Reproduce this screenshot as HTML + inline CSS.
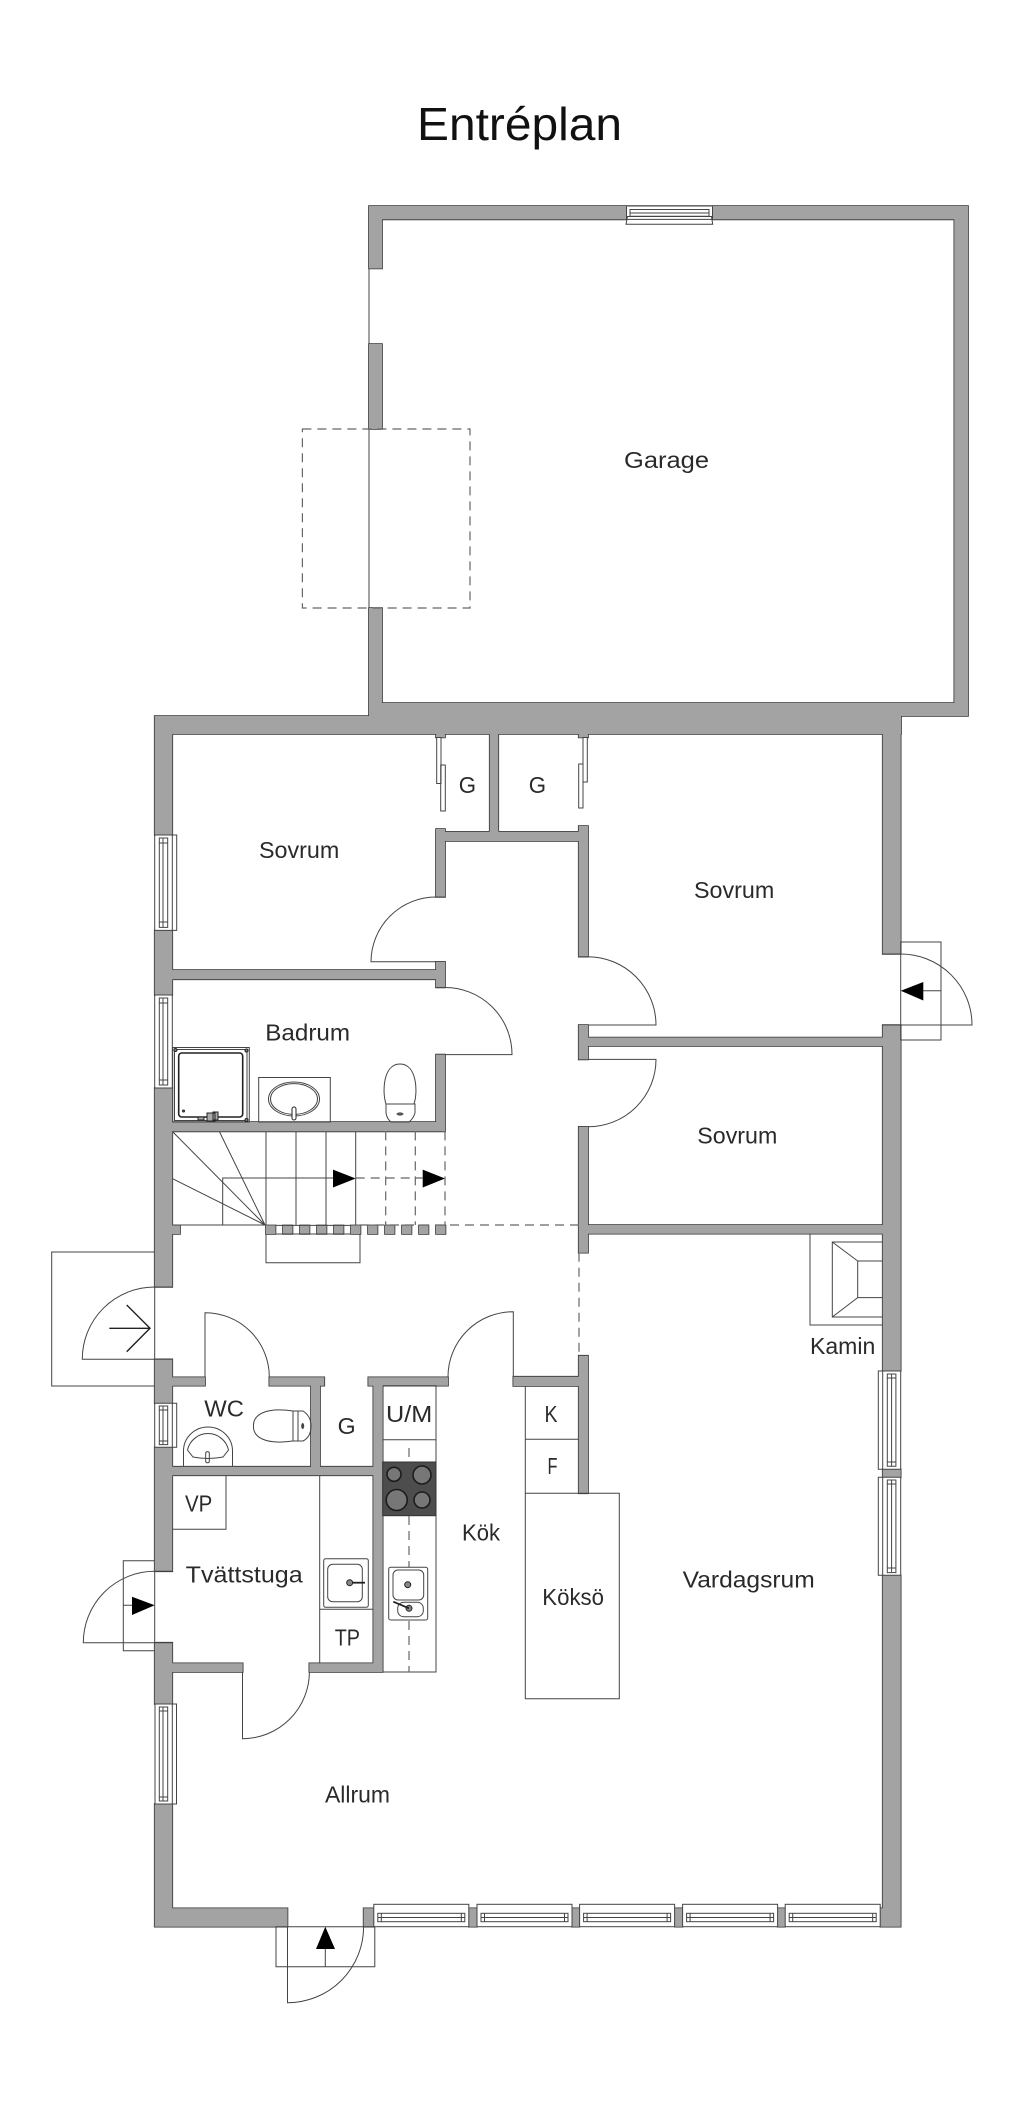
<!DOCTYPE html>
<html lang="sv"><head><meta charset="utf-8"><title>Entréplan</title><style>
html,body{margin:0;padding:0;background:#fff;width:1024px;height:2109px;overflow:hidden}
svg{display:block}
text{font-family:"Liberation Sans",sans-serif;font-size:23px;fill:#2a2a2a}
.l{fill:none;stroke:#444;stroke-width:1}
.d{fill:none;stroke:#666;stroke-width:1.2;stroke-dasharray:9 6}
.w{fill:#fff;stroke:#444;stroke-width:1}
</style></head><body>
<svg width="1024" height="2109" viewBox="0 0 1024 2109" xmlns="http://www.w3.org/2000/svg">
<defs>
<path id="walls" d="M369 206h599v13.4h-599zM954.3 206h13.7v510h-13.7zM369 206h13v62.5h-13zM369 344h13v85h-13zM369 608h13v126h-13zM369 703h532v31h-532zM900 703h68v13h-68zM154.7 716h215v18h-215zM154.7 716h17.6v119h-17.6zM154.7 930.4h17.6v64.6h-17.6zM154.7 1088h17.6v199h-17.6zM154.7 1359.3h17.6v44h-17.6zM154.7 1447.3h17.6v124h-17.6zM154.7 1642.7h17.6v61.3h-17.6zM154.7 1804h17.6v122.7h-17.6zM882.7 716h18v238h-18zM882.7 1025h18v346h-18zM882.7 1469.3h18v8h-18zM882.7 1575.3h18v351.4h-18zM154.7 1908.3h132.8v18.4h-132.8zM363.6 1908.3h10.2v18.4h-10.2zM468.8 1908.3h8.2v18.4h-8.2zM572 1908.3h7.4v18.4h-7.4zM674.8 1908.3h7.8v18.4h-7.8zM777.6 1908.3h7.4v18.4h-7.4zM880.3 1908.3h20.4v18.4h-20.4zM172 970h264v9.3h-264zM436 961.8h9v25.7h-9zM436 829h9v68h-9zM436 831.8h152v9.2h-152zM489.7 734h8.6v98h-8.6zM578.7 826h9.3v130.7h-9.3zM436 734h9v3.5h-9zM578.7 734h9.3v3.5h-9.3zM172 1122h273v9.4h-273zM436 1054.6h9v76.8h-9zM578.7 1025h9.3v34.4h-9.3zM588 1037.5h294.7v8.5h-294.7zM578.7 1126.8h9.3v125.9h-9.3zM588 1225h294.7v8.7h-294.7zM172 1225.4h8v8.6h-8zM266 1225.4h9.5v8.6h-9.5zM283 1225.4h9.5v8.6h-9.5zM300 1225.4h9.5v8.6h-9.5zM317 1225.4h9.5v8.6h-9.5zM334 1225.4h9.5v8.6h-9.5zM351 1225.4h9.5v8.6h-9.5zM368 1225.4h9.5v8.6h-9.5zM385 1225.4h9.5v8.6h-9.5zM402 1225.4h9.5v8.6h-9.5zM419 1225.4h9.5v8.6h-9.5zM436 1225.4h9.5v8.6h-9.5zM172 1377.3h33v8.4h-33zM269.3 1377.3h55v8.4h-55zM311 1385h9v90h-9zM172 1466.7h201.3v8.6h-201.3zM368.3 1377.3h79.7v8.4h-79.7zM373.3 1377.3h9.4v294.7h-9.4zM513.3 1376.7h74.7v9.3h-74.7zM578.7 1355.7h9.3v137.6h-9.3zM172 1663.3h70.7v8.7h-70.7zM309.3 1663.3h73.4v8.7h-73.4z"/>
<g id="bw"><rect class="w" x="0" y="0" width="95" height="22.4"/><rect class="w" x="4" y="9" width="87" height="8.4"/><path class="l" d="M4 13.2H91M7.5 9V17.4M87.5 9V17.4"/></g>
</defs>

<use href="#walls" fill="#333" stroke="#333" stroke-width="1.6"/>
<use href="#walls" fill="#a3a3a3"/>

<path class="l" d="M369 268.5V344M369 429V608M154.7 1287V1359.3M154.7 1571.3V1642.7"/>
<path class="d" d="M302.4 429H470V608H302.4Z"/>

<!-- garage window -->
<path class="w" d="M626.5 206h86v13.4h-86zM630 209.5h79v6.8h-79zM627.5 216.5H711.5L712.7 224.3H626Z"/>
<path class="l" d="M630 213H709"/>

<!-- side windows -->
<path class="w" d="M154.7 835h22v95.4h-22zM154.7 995h17.6v93h-17.6zM154.7 1403.3h22v44h-22zM155 1704h21.5v100h-21.5zM878.3 1371h22.4v98.3h-22.4zM878.3 1477.3h22.4v98h-22.4z"/>
<path class="l" d="M159.3 838h8.4v89.4h-8.4zM163 838V927M159.3 843H167.7M159.3 922H167.7M172.3 835V930.4M159.3 998h8.4v87h-8.4zM163 998V1085M159.3 1003H167.7M159.3 1080H167.7M159.3 1406h8.4v38.6h-8.4zM163 1406V1444.6M159.3 1410H167.7M159.3 1441H167.7M172.3 1403.3V1447.3M159.3 1707h8.4v94h-8.4zM163 1707V1801M159.3 1711H167.7M159.3 1797H167.7M172.3 1704V1804M887.3 1374h8.6v92.3h-8.6zM891.6 1374V1466M887.3 1378H895.9M887.3 1462H895.9M882.7 1371V1469.3M887.3 1480h8.6v92.6h-8.6zM891.6 1480V1572M887.3 1484H895.9M887.3 1568H895.9M882.7 1477.3V1575.3"/>

<!-- bottom windows -->
<use href="#bw" x="373.8" y="1904.3"/>
<use href="#bw" x="477" y="1904.3"/>
<use href="#bw" x="579.6" y="1904.3"/>
<use href="#bw" x="682.6" y="1904.3"/>
<use href="#bw" x="785.2" y="1904.3"/>

<!-- closet sliding doors -->
<path class="w" d="M436.7 737.5h4.3v46h-4.3zM440.7 765h4.6v46h-4.6zM583 737.5h4.3v44.5h-4.3zM578.7 764h4.3v44h-4.3z"/>

<!-- door swings -->
<path class="l" d="M445 897H436A65 65 0 0 0 371 961.8H436M436 987.5H445A67 67 0 0 1 512 1054.6H445M579 956.7H588A68.5 68.5 0 0 1 656 1025H588M588 1059.4H656A68 67.4 0 0 1 588 1126.8M882.7 954H900.7A71.3 71 0 0 1 972 1025H882.7M172 1287H154.7A72.4 72 0 0 0 82.3 1359.3H172M205 1377V1312.7A64.3 64.3 0 0 1 269.3 1377M513.3 1376.7V1311.7A65.3 65 0 0 0 448 1376.7M172 1571.3H154.7A71.4 71.4 0 0 0 83.3 1642.7H172M242.5 1672V1738.7A67 67 0 0 0 309.4 1672M287.5 1926.7V2002.7A76 76 0 0 0 363.6 1926.7"/>

<!-- door frames and arrows -->
<path class="l" d="M900.7 942H941V1040H900.7ZM923 990.8H941M154.7 1252H51.7V1386H154.7M154.7 1560.7H123.3V1650.7H154.7M123.3 1605.3H133M276 1926.7V1966.7H374.8V1926.7ZM325.3 1948V1966.7"/>
<path d="M900.7 990.8L923.3 982V1000.5ZM154.7 1605.3L132 1596.7V1615ZM325.3 1926.7L316 1949H335ZM355.7 1178.5L333 1169.6V1187.5ZM445 1178.5L422.7 1169.6V1187.5Z" fill="#000"/>
<path fill="none" stroke="#222" stroke-width="1.4" d="M109.3 1328.3H150M126.7 1305L150 1328.3L126.7 1351.7"/>

<!-- stairs -->
<path class="l" d="M266 1131.4V1225M296 1131.4V1225M326 1131.4V1225M355.7 1131.4V1225M172.3 1225H266M265 1225L172.3 1131.4M265 1225L219.3 1131.4M265 1225L172.3 1178.6M222.7 1225V1178H333M266 1234V1262.7H360V1234M275.5 1225.4H351M275.5 1234H351"/>
<path class="d" d="M385.7 1131.4V1225M415.3 1131.4V1225M445 1131.4V1225M355.7 1178H422.7M360 1225H578.7M579 1252.7V1355.7"/>

<!-- kamin -->
<path class="l" d="M882.7 1325H810V1233.7M882.7 1242H832.3V1317H882.7M882.7 1261H857.7V1297.6H882.7M832.3 1242L857.7 1261M832.3 1317L857.7 1297.6"/>

<!-- kitchen -->
<path class="l" d="M382.7 1385.7H436V1672H382.7M382.7 1439.7H436M525.3 1386V1493.3M525.3 1439.3H578.7M525.3 1493.3h94v205.4h-94z"/>
<rect x="382.7" y="1462" width="53.3" height="53.7" fill="#4d4d4d" stroke="#333"/>
<g fill="#777" stroke="#1c1c1c" stroke-width="1.6"><circle cx="394" cy="1474.3" r="7"/><circle cx="422" cy="1475" r="9"/><circle cx="396.7" cy="1500" r="10.5"/><circle cx="422" cy="1500" r="8"/></g>
<path class="d" d="M409 1448V1462M409 1516V1672"/>
<rect class="w" x="388.7" y="1567.3" width="39" height="52.7" rx="2"/>
<rect class="l" x="393" y="1570" width="30.7" height="30" rx="5"/>
<rect class="l" x="397.7" y="1602.3" width="25.6" height="14.4" rx="6"/>
<g fill="#888" stroke="#222"><circle cx="407.7" cy="1584.7" r="3"/><circle cx="409" cy="1608.3" r="3"/></g>
<path d="M393.3 1601.7L409 1608.3" stroke="#222" stroke-width="1.8" fill="none"/>

<!-- laundry -->
<path class="l" d="M319.7 1475.3V1663.3M319.7 1609.3H373.3M172.3 1529.3H226V1475.3"/>
<rect class="w" x="323.7" y="1558.7" width="44.6" height="48.6" rx="2"/>
<rect class="l" x="327.7" y="1564.3" width="34.6" height="37.4" rx="5"/>
<path d="M350 1582.7H365" stroke="#222" stroke-width="1.8" fill="none"/>
<circle cx="349.7" cy="1582.7" r="3" fill="#888" stroke="#222"/>

<!-- WC fixtures -->
<path class="l" d="M183.5 1466.7V1451A24.5 24 0 0 1 232.5 1451V1466.7M187.5 1450A21 21 0 0 1 228.5 1450L223 1457Q208 1460 193 1457ZM293 1411C265 1407 253 1415 253.5 1426C253 1437 265 1445 293 1441M293 1411H303Q311 1416 311 1426Q311 1437 303 1441H293ZM298 1411V1441"/>
<rect class="l" x="205.7" y="1451.7" width="3.6" height="11" rx="1.5"/>
<ellipse cx="302.7" cy="1426" rx="1.5" ry="3" fill="#444"/>

<!-- bathroom fixtures -->
<path class="l" d="M172.7 1047.5h76.6v74.5h-76.6zM174.5 1049.5h72.5v71h-72.5zM258.7 1077.5h71.6v44.5h-71.6zM386 1104C382 1092 383 1064 400 1064C417 1064 418 1092 414 1104M386 1104H415L415 1113Q413 1119 409 1122H391Q387 1119 386 1113Z"/>
<rect x="178.7" y="1053" width="64" height="64" rx="3" fill="#fff" stroke="#222" stroke-width="1.6"/>
<g fill="#888" stroke="#222"><circle cx="175.5" cy="1050" r="1.5"/><circle cx="246.5" cy="1050.5" r="1.5"/><circle cx="246.5" cy="1120" r="1.5"/><circle cx="183.5" cy="1111" r="1"/></g>
<path d="M198 1117h6v3h-6zM207 1113h8v8h-8zM213 1112h5v8h-5z" fill="#aaa" stroke="#222"/>
<ellipse class="l" cx="294" cy="1099" rx="25.5" ry="17"/>
<ellipse class="l" cx="294" cy="1099" rx="23.5" ry="15.4"/>
<rect x="292" y="1107" width="4" height="13" rx="2" fill="#fff" stroke="#222"/>
<ellipse cx="400" cy="1114" rx="3.5" ry="1.6" fill="#555"/>

<!-- labels -->
<text x="417" y="140" textLength="205" lengthAdjust="spacingAndGlyphs" style="font-size:46px;fill:#111">Entréplan</text>
<text x="624" y="468" textLength="85" lengthAdjust="spacingAndGlyphs">Garage</text>
<text x="259" y="858" textLength="80.3" lengthAdjust="spacingAndGlyphs">Sovrum</text>
<text x="458.7" y="793" textLength="17.3" lengthAdjust="spacingAndGlyphs">G</text>
<text x="528.7" y="793" textLength="17.3" lengthAdjust="spacingAndGlyphs">G</text>
<text x="694" y="898" textLength="80.3" lengthAdjust="spacingAndGlyphs">Sovrum</text>
<text x="265.3" y="1040.4" textLength="84.7" lengthAdjust="spacingAndGlyphs">Badrum</text>
<text x="697.3" y="1143.6" textLength="80" lengthAdjust="spacingAndGlyphs">Sovrum</text>
<text x="810" y="1354" textLength="65.3" lengthAdjust="spacingAndGlyphs">Kamin</text>
<text x="204.3" y="1416.7" textLength="39.7" lengthAdjust="spacingAndGlyphs">WC</text>
<text x="337.7" y="1434" textLength="18" lengthAdjust="spacingAndGlyphs">G</text>
<text x="386" y="1422" textLength="46.3" lengthAdjust="spacingAndGlyphs">U/M</text>
<text x="544.5" y="1422" textLength="13" lengthAdjust="spacingAndGlyphs">K</text>
<text x="547.5" y="1474" textLength="10" lengthAdjust="spacingAndGlyphs">F</text>
<text x="185" y="1511.7" textLength="27.3" lengthAdjust="spacingAndGlyphs">VP</text>
<text x="462" y="1540.7" textLength="38" lengthAdjust="spacingAndGlyphs">Kök</text>
<text x="185.7" y="1582.3" textLength="117" lengthAdjust="spacingAndGlyphs">Tvättstuga</text>
<text x="542.3" y="1605" textLength="61.7" lengthAdjust="spacingAndGlyphs">Köksö</text>
<text x="682.7" y="1587.7" textLength="132" lengthAdjust="spacingAndGlyphs">Vardagsrum</text>
<text x="334.7" y="1645.7" textLength="25.3" lengthAdjust="spacingAndGlyphs">TP</text>
<text x="325" y="1802.7" textLength="65" lengthAdjust="spacingAndGlyphs">Allrum</text>
</svg>
</body></html>
